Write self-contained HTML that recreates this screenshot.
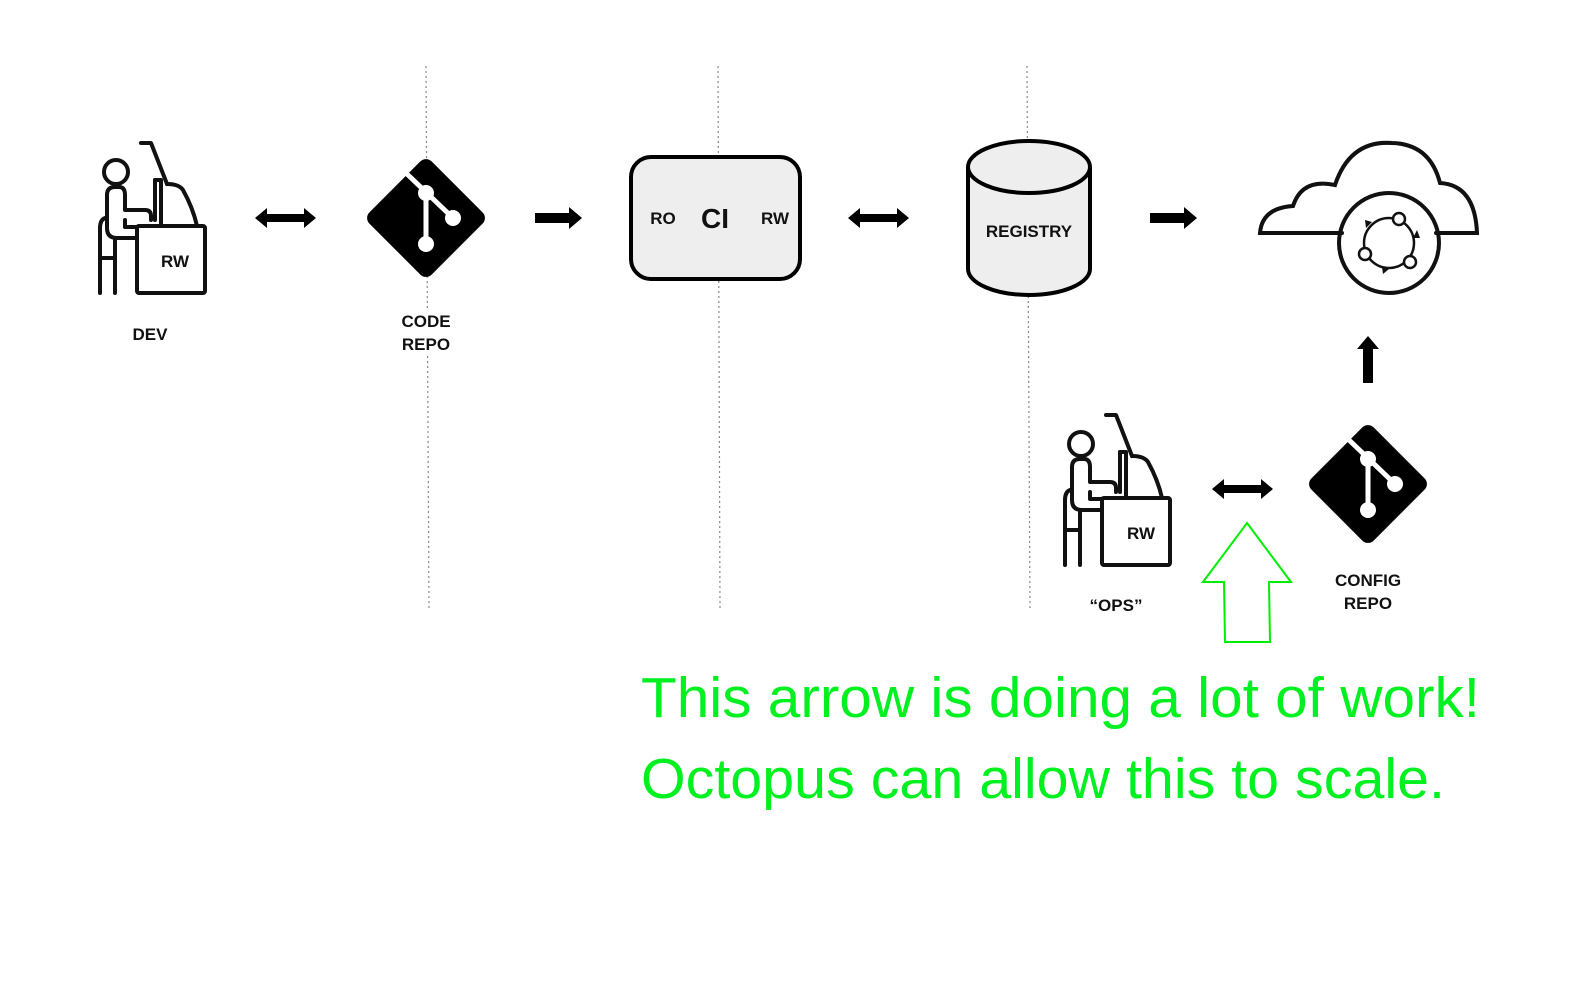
<!DOCTYPE html>
<html><head><meta charset="utf-8"><style>
html,body{margin:0;padding:0;background:#fff;overflow:hidden;width:1584px;height:1000px;}
svg{display:block;}
.lbl{font-family:"Liberation Sans",sans-serif;font-weight:bold;font-size:17px;fill:#111;text-anchor:middle;}
.g{font-family:"Liberation Sans",sans-serif;font-size:57px;fill:#00f020;}
</style></head><body>
<svg width="1584" height="1000" viewBox="0 0 1584 1000" xmlns="http://www.w3.org/2000/svg">
<defs>
  <g id="person" fill="none" stroke="#111" stroke-width="4" stroke-linejoin="round" stroke-linecap="round">
    <circle cx="21" cy="32" r="12"/>
    <path d="M46 3 L56 3 L72 44"/>
    <path d="M72 44 Q84 44 88 50 Q98 68 102 86"/>
    <path d="M60 40 L66 40 L66 84"/>
    <path d="M60 40 L60 80"/>
    <rect x="42" y="86" width="68" height="67" rx="2"/>
    <path d="M12 55 Q12 47 20 47 L24 47 Q30 47 30 55 L30 70 L50 70 Q56 70 56 76 L56 80"/>
    <path d="M12 55 L12 88 Q12 98 22 98 L42 98"/>
    <path d="M5 88 L5 153"/>
    <path d="M5 88 Q5 80 10 78"/>
    <path d="M20 98 L20 153"/>
    <path d="M5 118 L20 118"/>
    <path d="M30 80 L30 87 L42 87"/>
  </g>
  <g id="git">
    <rect x="-44" y="-44" width="88" height="88" rx="8" transform="rotate(45)" fill="#000"/>
    <g stroke="#fff" stroke-width="5" stroke-linecap="round">
      <line x1="-19" y1="-44" x2="27" y2="0"/>
      <line x1="0" y1="-25" x2="0" y2="26"/>
    </g>
    <circle cx="0" cy="-25" r="8" fill="#fff"/>
    <circle cx="27" cy="0" r="8" fill="#fff"/>
    <circle cx="0" cy="26" r="8" fill="#fff"/>
  </g>
  <path id="dbl" d="M0 0 L12 -10 L12 -4 L49 -4 L49 -10 L61 0 L49 10 L49 4 L12 4 L12 10 Z" fill="#000"/>
  <path id="rarr" d="M0 -5 L34 -5 L34 -11 L47 0 L34 11 L34 5 L0 5 Z" fill="#000"/>
</defs>

<g stroke="#888" stroke-width="1.2" stroke-dasharray="2,3">
  <line x1="426" y1="66" x2="429" y2="608"/>
  <line x1="718" y1="66" x2="720" y2="608"/>
  <line x1="1027" y1="66" x2="1030" y2="608"/>
</g>

<rect x="137" y="226" width="68" height="67" fill="#fff"/>
<use href="#person" x="95" y="140"/>
<text class="lbl" x="175" y="267">RW</text>
<text class="lbl" x="150" y="340">DEV</text>

<use href="#dbl" x="255" y="218"/>

<use href="#git" x="426" y="218"/>
<rect x="396" y="309" width="60" height="46" fill="#fff"/>
<text class="lbl" x="426" y="327">CODE</text>
<text class="lbl" x="426" y="350">REPO</text>

<use href="#rarr" x="535" y="218"/>

<rect x="631" y="157" width="169" height="122" rx="20" fill="#eee" stroke="#000" stroke-width="4"/>
<text class="lbl" x="663" y="224">RO</text>
<text class="lbl" x="715" y="228" style="font-size:28px">CI</text>
<text class="lbl" x="775" y="224">RW</text>

<use href="#dbl" x="848" y="218"/>

<path d="M968 167 L968 269 A61 26 0 0 0 1090 269 L1090 167" fill="#eee" stroke="#000" stroke-width="4"/>
<ellipse cx="1029" cy="167" rx="61" ry="26" fill="#eee" stroke="#000" stroke-width="4"/>
<text class="lbl" x="1029" y="237">REGISTRY</text>

<use href="#rarr" x="1150" y="218"/>

<g fill="none" stroke="#111" stroke-width="4" stroke-linecap="round">
  <path d="M1342 233 L1260 233 Q1262 208 1293 206 Q1302 178 1335 185 Q1350 140 1392 143 Q1430 144 1440 183 Q1475 185 1477 233 L1436 233"/>
  <circle cx="1389" cy="243" r="50"/>
  <circle cx="1389" cy="243" r="25" stroke-width="2.5"/>
</g>
<g fill="#111">
  <path d="M1372 222 l-6 6 l-1 -8 z"/>
  <path d="M1413 238 l4 -8 l3 8 z"/>
  <path d="M1382 267 l7 2 l-6 5 z"/>
</g>
<g fill="#fff" stroke="#111" stroke-width="2.5">
  <circle cx="1399" cy="219" r="6"/>
  <circle cx="1410" cy="262" r="6"/>
  <circle cx="1365" cy="254" r="6"/>
</g>

<use href="#rarr" x="0" y="0" transform="translate(1368 383) rotate(-90)"/>

<rect x="1102" y="498" width="68" height="67" fill="#fff"/>
<use href="#person" x="1060" y="412"/>
<text class="lbl" x="1141" y="539">RW</text>
<text class="lbl" x="1116" y="611">“OPS”</text>

<use href="#dbl" x="1212" y="489"/>

<use href="#git" x="1368" y="484"/>
<text class="lbl" x="1368" y="586">CONFIG</text>
<text class="lbl" x="1368" y="609">REPO</text>

<path d="M1247 523 L1291 582 L1269 582 L1270 642 L1225 642 L1224 582 L1203 582 Z" fill="none" stroke="#00ee00" stroke-width="2"/>

<text class="g" x="641" y="717" textLength="839" lengthAdjust="spacingAndGlyphs">This arrow is doing a lot of work!</text>
<text class="g" x="641" y="798" textLength="804" lengthAdjust="spacingAndGlyphs">Octopus can allow this to scale.</text>
</svg>
</body></html>
